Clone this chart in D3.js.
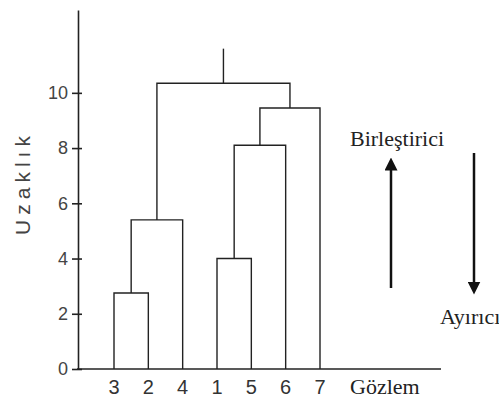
<!DOCTYPE html>
<html lang="tr">
<head>
    <meta charset="UTF-8">
    <title>Dendrogram</title>
    <script src="https://d3js.org/d3.v7.min.js"></script>
    <style>
        body { margin: 0; background: #fff; }
        .link { fill: none; stroke: #222; stroke-width: 1.4; }
        .axis path, .axis line { stroke: #222; stroke-width: 1.6; }
        .axis text { font-family: "Liberation Sans", Arial, sans-serif; font-size: 18px; fill: #444; }
        .serif { font-family: "Liberation Serif", "Times New Roman", serif; font-size: 22px; fill: #222; }
    </style>
</head>
<body>
<script>
    // Leaves in dendrogram order
    const leaves = ["3", "2", "4", "1", "5", "6", "7"];
    // Merge steps: left child, right child, distance
    const mergeLeft = ["3", "m1", "1", "m3", "m4", "m2"];
    const mergeRight = ["2", "4", "5", "6", "7", "m5"];
    const mergeHeights = [2.75, 5.4, 4.0, 8.1, 9.45, 10.35];
    const rootStemTop = 11.6;
    const yTicks = [0, 2, 4, 6, 8, 10];

    const width = 499, height = 398;
    const svg = d3.select("body").append("svg")
        .attr("width", width)
        .attr("height", height);

    const x = d3.scalePoint().domain(leaves).range([114, 320]);
    const y = d3.scaleLinear().domain([0, 13]).range([369, 10]);

    // node positions
    const pos = {};
    leaves.forEach(l => pos[l] = { x: x(l), h: 0 });
    mergeLeft.forEach((a, i) => {
        const b = mergeRight[i];
        pos["m" + (i + 1)] = { x: (pos[a].x + pos[b].x) / 2, h: mergeHeights[i] };
    });

    // draw links
    mergeLeft.forEach((a, i) => {
        const n = pos["m" + (i + 1)], b = mergeRight[i];
        const p = d3.path();
        p.moveTo(pos[a].x, y(pos[a].h));
        p.lineTo(pos[a].x, y(n.h));
        p.lineTo(pos[b].x, y(n.h));
        p.lineTo(pos[b].x, y(pos[b].h));
        svg.append("path").attr("class", "link").attr("d", p.toString());
    });
    const root = pos["m" + mergeHeights.length];
    svg.append("line").attr("class", "link")
        .attr("x1", root.x).attr("x2", root.x)
        .attr("y1", y(root.h)).attr("y2", y(rootStemTop));

    // y axis
    const yAxis = svg.append("g").attr("class", "axis")
        .attr("transform", "translate(78,0)")
        .call(d3.axisLeft(y).tickValues(yTicks).tickSizeInner(6).tickSizeOuter(0).tickPadding(4));
    yAxis.selectAll(".tick line").attr("x2", 4).attr("x1", -6);

    // x axis baseline
    svg.append("line")
        .attr("x1", 77).attr("x2", 441)
        .attr("y1", y(0)).attr("y2", y(0))
        .attr("stroke", "#222").attr("stroke-width", 1.6);

    svg.selectAll(".leaf").data(leaves).enter().append("text")
        .attr("class", "leaf")
        .attr("x", d => x(d)).attr("y", 394)
        .attr("text-anchor", "middle")
        .style("font-family", "Liberation Sans, Arial, sans-serif")
        .style("font-size", "20px").style("fill", "#333")
        .text(d => d);

    svg.append("text").attr("class", "serif")
        .attr("x", 350).attr("y", 394).text("Gözlem");

    // y label
    svg.append("text")
        .attr("transform", "translate(30,183) rotate(-90)")
        .attr("text-anchor", "middle")
        .style("font-family", "Liberation Sans, Arial, sans-serif")
        .style("font-size", "21px").style("letter-spacing", "5px").style("fill", "#444")
        .text("Uzaklık");

    // arrows
    const defs = svg.append("defs");
    defs.append("marker").attr("id", "head")
        .attr("viewBox", "0 0 10 10").attr("refX", 5).attr("refY", 5)
        .attr("markerWidth", 13).attr("markerHeight", 13).attr("markerUnits", "userSpaceOnUse")
        .attr("orient", "auto")
        .append("path").attr("d", "M0,0 L10,5 L0,10 Z").attr("fill", "#111");

    svg.append("line").attr("x1", 391).attr("x2", 391).attr("y1", 288).attr("y2", 164)
        .attr("stroke", "#111").attr("stroke-width", 2.5).attr("marker-end", "url(#head)");
    svg.append("line").attr("x1", 474).attr("x2", 474).attr("y1", 153).attr("y2", 288)
        .attr("stroke", "#111").attr("stroke-width", 2.5).attr("marker-end", "url(#head)");

    svg.append("text").attr("class", "serif").attr("x", 350).attr("y", 146).text("Birleştirici");
    svg.append("text").attr("class", "serif").attr("x", 440).attr("y", 324).text("Ayırıcı");
</script>
</body>
</html>
